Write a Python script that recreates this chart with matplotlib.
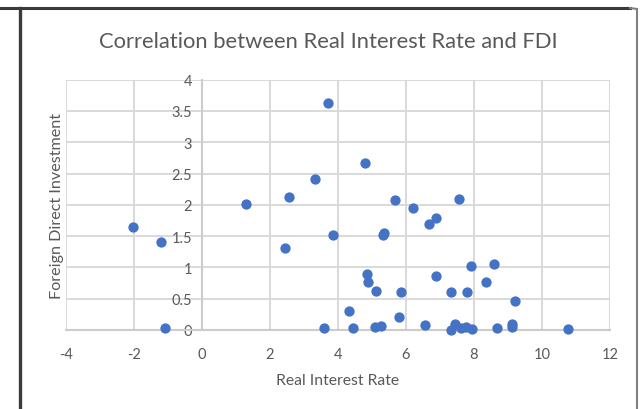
import matplotlib
matplotlib.use("Agg")
import matplotlib.pyplot as plt
from matplotlib.lines import Line2D

# Data
real_interest_rate = [-2.02, -1.20, -1.10, 1.28, 2.55, 2.43, 3.33, 3.71, 3.84, 3.60,
                      4.33, 4.45, 4.79, 4.84, 4.89, 5.12, 5.09, 5.26, 5.34, 5.32,
                      5.67, 5.85, 5.80, 6.22, 6.56, 6.67, 6.89, 6.89, 7.32, 7.32,
                      7.43, 7.56, 7.63, 7.77, 7.79, 7.90, 7.94, 8.35, 8.58, 8.69,
                      9.11, 9.13, 9.20, 10.77]
fdi = [1.64, 1.41, 0.03, 2.01, 2.13, 1.31, 2.41, 3.63, 1.51, 0.03,
       0.30, 0.03, 2.66, 0.89, 0.77, 0.62, 0.05, 0.07, 1.55, 1.52,
       2.08, 0.60, 0.20, 1.95, 0.08, 1.70, 1.79, 0.87, 0.61, 0.00,
       0.10, 2.10, 0.03, 0.04, 0.61, 1.02, 0.01, 0.77, 1.05, 0.03,
       0.05, 0.10, 0.47, 0.01]

x_ticks = [-4, -2, 0, 2, 4, 6, 8, 10, 12]
y_ticks = [0, 0.5, 1, 1.5, 2, 2.5, 3, 3.5, 4]
y_tick_labels = ["0", "0.5", "1", "1.5", "2", "2.5", "3", "3.5", "4"]

title = "Correlation between Real Interest Rate and FDI"
x_label = "Real Interest Rate"
y_label = "Foreign Direct Investment"

plt.rcParams['font.family'] = ['Lato', 'DejaVu Sans']
plt.rcParams['axes.unicode_minus'] = False

W, H = 641, 410
fig = plt.figure(figsize=(W / 100, H / 100), dpi=100)
fig.patch.set_facecolor("white")

# Plot area position (pixels -> figure fraction)
left_px, right_px, top_px, bottom_px = 66, 610, 80.6, 331
ax = fig.add_axes([left_px / W, 1 - bottom_px / H, (right_px - left_px) / W, (bottom_px - top_px) / H])

grid_c = "#d9d9d9"
text_c = "#595959"

ax.set_xlim(-4, 12)
ax.set_ylim(0, 4)
ax.set_xticks(x_ticks)
ax.set_yticks(y_ticks)
ax.set_yticklabels(y_tick_labels)
ax.grid(True, color=grid_c, linewidth=1.4)
ax.set_axisbelow(True)

for s in ["top", "right"]:
    ax.spines[s].set_visible(False)
ax.spines["left"].set_position(("data", 0))
ax.spines["left"].set_color("#cccccc")
ax.spines["left"].set_linewidth(1.5)
ax.spines["bottom"].set_color("#cccccc")
ax.spines["bottom"].set_linewidth(1.5)
# outer grid borders
ax.axvline(12, color=grid_c, linewidth=1.4, zorder=0)
ax.axhline(4, color=grid_c, linewidth=1.4, zorder=0)

ax.tick_params(axis="both", length=0, labelsize=10.5, labelcolor=text_c)
ax.tick_params(axis="x", pad=12)
ax.tick_params(axis="y", pad=7)

ax.scatter(real_interest_rate, fdi, s=55, color="#4472C4", zorder=3, clip_on=False, linewidths=0)

fig.text(328 / W, 1 - 42 / H, title, ha="center", va="center", fontsize=15.8, color=text_c)
fig.text(338 / W, 1 - 381 / H, x_label, ha="center", va="center", fontsize=11.3, color=text_c)
fig.text(57 / W, 1 - 206 / H, y_label, ha="center", va="center", rotation=90, fontsize=11.6, color=text_c)

# Screenshot frame lines
fig.add_artist(Line2D([0, 630 / W], [1 - 9 / H, 1 - 9 / H], transform=fig.transFigure, color="#3a3a3a", linewidth=2.2))
fig.add_artist(Line2D([20 / W, 20 / W], [0, 1 - 9 / H], transform=fig.transFigure, color="#3a3a3a", linewidth=2.4))
fig.add_artist(Line2D([637 / W, 637 / W], [0, 1 - 10 / H], transform=fig.transFigure, color="#808080", linewidth=1.5))
fig.add_artist(Line2D([630 / W, 637 / W], [1 - 9 / H, 1 - 10 / H], transform=fig.transFigure, color="#808080", linewidth=1.5))

fig.savefig("out.png", dpi=100, facecolor="white")
